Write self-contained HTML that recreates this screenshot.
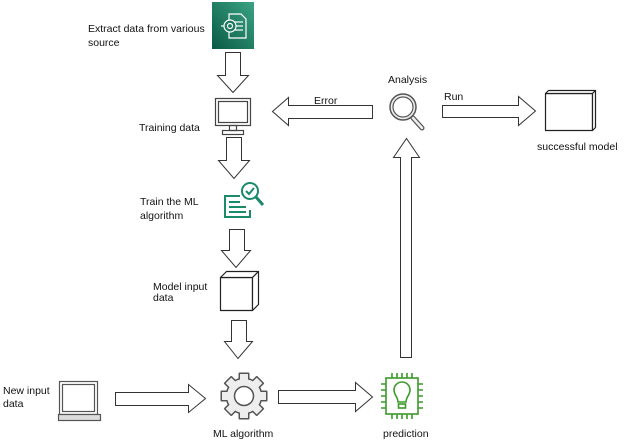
<!DOCTYPE html>
<html><head><meta charset="utf-8"><style>
html,body{margin:0;padding:0;background:#fff;}
svg{display:block;}
text{font-family:"Liberation Sans",Arial,sans-serif;font-size:10.5px;fill:#111;}
</style></head><body>
<svg width="628" height="444" viewBox="0 0 628 444" xmlns="http://www.w3.org/2000/svg">
<defs>
<linearGradient id="g1" x1="0" y1="1" x2="1" y2="0">
<stop offset="0" stop-color="#0a5a45"/><stop offset="1" stop-color="#3aa382"/>
</linearGradient>
</defs>
<g fill="#fff" stroke="#333" stroke-width="1">
<path d="M225.5,52.5 H240.5 V75.5 H248.5 L233,92.5 L217.5,75.5 H225.5 Z"/>
<path d="M226.5,137.5 H241.5 V160.5 H249.5 L234,178.5 L218.5,160.5 H226.5 Z"/>
<path d="M229.5,229.5 H244.5 V250.5 H250.5 L236,267.5 L221.5,250.5 H229.5 Z"/>
<path d="M231.5,320.5 H246.5 V341.5 H252.5 L238,358.5 L224.5,341.5 H231.5 Z"/>
<path d="M115.5,392.5 H188.5 V384.5 L205.5,398.5 L188.5,412.5 V405.5 H115.5 Z"/>
<path d="M278.5,390.5 H355.5 V382.5 L372.5,397 L355.5,411.5 V403.5 H278.5 Z"/>
<path d="M400.5,357.5 V157.5 H393.5 L406.5,138.5 L419.5,157.5 H411.5 V357.5 Z"/>
<path d="M372.5,105.5 H288.5 V97.5 L272.5,111.5 L288.5,125.5 V118.5 H372.5 Z"/>
<path d="M442.5,105.5 H518.5 V96.5 L535.5,111 L518.5,125.5 V117.5 H442.5 Z"/>
</g>
<rect x="212" y="2" width="42" height="47" fill="url(#g1)"/>
<g fill="none" stroke="#fff" stroke-width="1.2">
<path d="M229,14 H241 L246,19 V38 H229 Z"/>
<line x1="234" y1="22" x2="243" y2="22"/><line x1="234" y1="26" x2="243" y2="26"/><line x1="234" y1="30" x2="243" y2="30"/>
<circle cx="230" cy="26" r="6" fill="#1d7a60"/>
<circle cx="230" cy="26" r="2.5"/>
<line x1="221" y1="26" x2="224" y2="26"/>
</g>
<g fill="none" stroke="#444" stroke-width="1.2">
<rect x="215.5" y="98.5" width="35" height="27"/>
<rect x="218.5" y="101.5" width="29" height="21"/>
<rect x="229.5" y="125.5" width="7" height="5"/>
<rect x="222.5" y="130.5" width="21" height="4"/>
</g>
<g fill="none" stroke="#1a8a6a" stroke-width="2">
<path d="M240,196 H225 V217 H250 V210"/>
<line x1="229" y1="202" x2="240" y2="202"/><line x1="229" y1="207" x2="246" y2="207"/><line x1="229" y1="212" x2="246" y2="212"/>
<circle cx="250" cy="191" r="8" fill="#fff"/>
<path d="M246,191 L249,194 L254,188"/>
<line x1="256" y1="197" x2="263" y2="205" stroke-width="3"/>
</g>
<!-- cube -->
<g fill="#fff" stroke="#222" stroke-width="1.2" stroke-linejoin="round">
<rect x="220.5" y="277.5" width="32" height="33"/>
<polygon points="220.5,277.5 226.5,271.5 258.5,271.5 252.5,277.5"/>
<polygon points="252.5,277.5 258.5,271.5 258.5,304.5 252.5,310.5"/>
</g>
<g fill="none" stroke="#555" stroke-width="1.2">
<rect x="59.5" y="381.5" width="38" height="33"/>
<rect x="62.5" y="384.5" width="32" height="27"/>
<rect x="58.5" y="414.5" width="42" height="6" fill="#ddd"/>
</g>
<g transform="translate(244,396)">
<g fill="#555">
<circle r="18.5"/>
<rect x="-5.5" y="-23.5" width="11" height="47" rx="1"/><rect x="-23.5" y="-5.5" width="47" height="11" rx="1"/>
<rect x="-5.5" y="-23.5" width="11" height="47" rx="1" transform="rotate(45)"/><rect x="-5.5" y="-23.5" width="11" height="47" rx="1" transform="rotate(-45)"/>
</g>
<g fill="#eee">
<circle r="17"/>
<rect x="-4" y="-22" width="8" height="44"/><rect x="-22" y="-4" width="44" height="8"/>
<rect x="-4" y="-22" width="8" height="44" transform="rotate(45)"/><rect x="-4" y="-22" width="8" height="44" transform="rotate(-45)"/>
</g>
<circle r="9.5" fill="#fff" stroke="#555" stroke-width="1.5"/>
</g>
<g fill="none" stroke="#3c9a2a" stroke-width="1.6">
<rect x="386" y="378" width="32" height="36"/>
<path d="M392,378 V373 M397,378 V373 M402,378 V373 M407,378 V373 M412,378 V373"/>
<path d="M392,414 V419 M397,414 V419 M402,414 V419 M407,414 V419 M412,414 V419"/>
<path d="M386,384 H381 M386,390 H381 M386,396 H381 M386,402 H381 M386,408 H381"/>
<path d="M418,384 H423 M418,390 H423 M418,396 H423 M418,402 H423 M418,408 H423"/>
<path d="M398,402 C398,397 394,395 394,390 A8,8 0 0 1 410,390 C410,395 406,397 406,402 Z"/>
<rect x="398.5" y="404" width="7" height="4"/>
</g>
<g fill="#fff" stroke="#555">
<line x1="413" y1="118" x2="422" y2="128" stroke-width="5" stroke-linecap="round"/>
<line x1="413" y1="118" x2="422" y2="128" stroke="#eee" stroke-width="2.5" stroke-linecap="round"/>
<circle cx="403" cy="107" r="13" stroke-width="1.5" fill="#eee"/>
<circle cx="403" cy="107" r="10" stroke-width="1.2"/>
</g>
<g fill="#fff" stroke="#222" stroke-width="1.2" stroke-linejoin="round">
<rect x="545.5" y="93.5" width="47" height="37"/>
<polygon points="545.5,93.5 548.5,90.5 595.5,90.5 592.5,93.5"/>
<polygon points="592.5,93.5 595.5,90.5 595.5,127.5 592.5,130.5"/>
</g>
<text x="88" y="32">Extract data from various</text>
<text x="88" y="46">source</text>
<text x="139" y="131">Training data</text>
<text x="140" y="205">Train the ML</text>
<text x="140" y="219">algorithm</text>
<text x="153" y="290">Model input</text>
<text x="153" y="301">data</text>
<text x="3" y="394">New input</text>
<text x="3" y="407">data</text>
<text x="213" y="437">ML algorithm</text>
<text x="383" y="437">prediction</text>
<text x="388" y="83">Analysis</text>
<text x="314" y="104">Error</text>
<text x="444" y="100">Run</text>
<text x="537" y="150">successful model</text>
</svg>
</body></html>
